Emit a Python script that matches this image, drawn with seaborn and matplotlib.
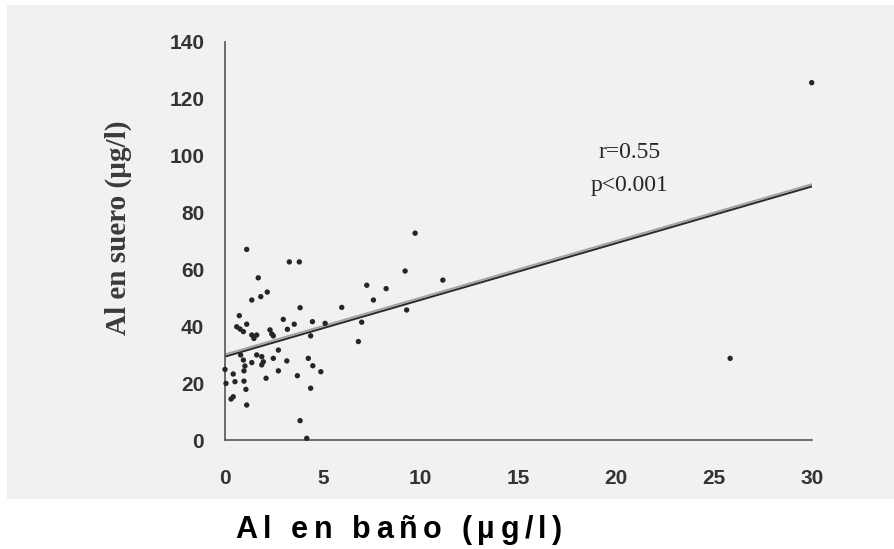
import matplotlib
matplotlib.use("Agg")
import matplotlib.pyplot as plt
import matplotlib.patheffects as pe
from matplotlib.patches import Rectangle
import seaborn as sns
import pandas as pd

# ---------------- data ----------------
x_bath = [1.11, 3.29, 3.80, 1.70, 1.37, 1.83, 2.16, 0.73, 3.84, 5.97,
          7.25, 0.60, 0.77, 0.94, 1.11, 1.37, 1.62, 1.48, 2.30, 2.39,
          2.47, 2.98, 3.19, 3.54, 4.47, 4.38, 5.12, 6.99, 6.82, 0.80,
          0.94, 1.37, 1.02, 0.97, 1.62, 1.88, 1.96, 1.88, 2.47, 2.73,
          3.16, 2.73, 2.10, 3.70, 4.26, 4.49, 4.90, 4.38, 3.84, 4.18,
          0.00, 0.05, 0.42, 0.51, 0.97, 1.07, 0.42, 0.31, 1.11, 9.72,
          9.21, 11.14, 8.24, 7.59, 9.29, 25.83, 30.0]
y_serum = [67.0, 62.6, 62.6, 57.0, 49.2, 50.4, 52.0, 43.7, 46.5, 46.6,
           54.4, 39.8, 39.0, 38.1, 40.7, 36.9, 36.9, 35.7, 38.7, 37.3,
           36.6, 42.4, 38.9, 40.7, 41.6, 36.6, 41.0, 41.4, 34.6, 29.9,
           28.1, 27.2, 26.0, 24.3, 29.9, 29.3, 27.5, 26.4, 28.7, 31.6,
           27.8, 24.3, 21.7, 22.6, 28.7, 26.1, 24.0, 18.2, 6.8, 0.6,
           24.8, 19.9, 23.2, 20.5, 20.7, 17.8, 15.2, 14.4, 12.3, 72.7,
           59.4, 56.2, 53.2, 49.2, 45.7, 28.7, 125.6]
fit_x = [0, 30]
fit_y = [29.3, 89.1]
x_ticks = [0, 5, 10, 15, 20, 25, 30]
y_ticks = [0, 20, 40, 60, 80, 100, 120, 140]
stats_lines = ["r=0.55", "p<0.001"]
x_label = "Al en baño (µg/l)"
y_label = "Al en suero (µg/l)"

# ---------------- style ----------------
sns.set_theme(style="white")
plt.rcParams["font.family"] = ["Liberation Sans", "DejaVu Sans"]

W, H = 894, 549
fig = plt.figure(figsize=(W / 100, H / 100), dpi=100)
fig.patch.set_facecolor("white")
fig.patches.append(Rectangle((7 / W, 1 - 499 / H), 1 - 7 / W, 494 / H,
                             transform=fig.transFigure, facecolor="#f1f1f1",
                             edgecolor="none", zorder=-10))

ax = fig.add_axes([225 / W, 1 - 440 / H, 586.7 / W, 398.3 / H])
ax.set_facecolor("none")

df = pd.DataFrame({"bath": x_bath, "serum": y_serum})
sns.scatterplot(data=df, x="bath", y="serum", ax=ax, marker="o", s=15,
                color="#262626", edgecolor="none", linewidth=0, clip_on=False,
                zorder=3)
sns.lineplot(x=fit_x, y=fit_y, ax=ax, color="#2a2a2a", lw=1.4,
             path_effects=[pe.SimpleLineShadow(offset=(0, 1.6), shadow_color="#9a9a9a",
                                               alpha=0.9),
                           pe.Normal()])

ax.set_xlim(0, 30)
ax.set_ylim(0, 140)
ax.set_xticks(x_ticks)
ax.set_yticks(y_ticks)
ax.set_xlabel("")
ax.set_ylabel("")
sns.despine(ax=ax)
for s in ("left", "bottom"):
    ax.spines[s].set_color("#555555")
    ax.spines[s].set_linewidth(1.2)
ax.tick_params(axis="both", direction="out", length=4, width=1.1, color="#555555",
               labelcolor="#333333", labelsize=15)
ax.tick_params(axis="x", pad=17)
ax.tick_params(axis="y", pad=11)
for lab in ax.get_xticklabels() + ax.get_yticklabels():
    lab.set_fontweight("bold")

serif = ["Liberation Serif", "DejaVu Serif"]
ax.text(20.7, 100.9, stats_lines[0], ha="center", va="center", family=serif,
        size=17, color="#262626")
ax.text(20.7, 89.6, stats_lines[1], ha="center", va="center", family=serif,
        size=17, color="#262626")

fig.text(118 / W, 1 - 228 / H, y_label, rotation=90, family=serif, weight="bold",
         size=21, color="#3a3a3a", ha="center", va="center")

# x label with letter spacing, drawn character by character
renderer = fig.canvas.get_renderer()
xpos = 235.0
base_y = 1 - 538 / H
g = 5.5       # letter gap (px)
wg = 20.0     # word gap (px)
for ch in x_label:
    if ch == " ":
        xpos += wg - g
        continue
    t = fig.text(xpos / W, base_y, ch, family=["Liberation Sans", "DejaVu Sans"],
                 weight="bold", size=22, color="black", ha="left", va="baseline")
    bb = t.get_window_extent(renderer)
    xpos += bb.width + g

fig.savefig("out.png", dpi=100, facecolor="white")
